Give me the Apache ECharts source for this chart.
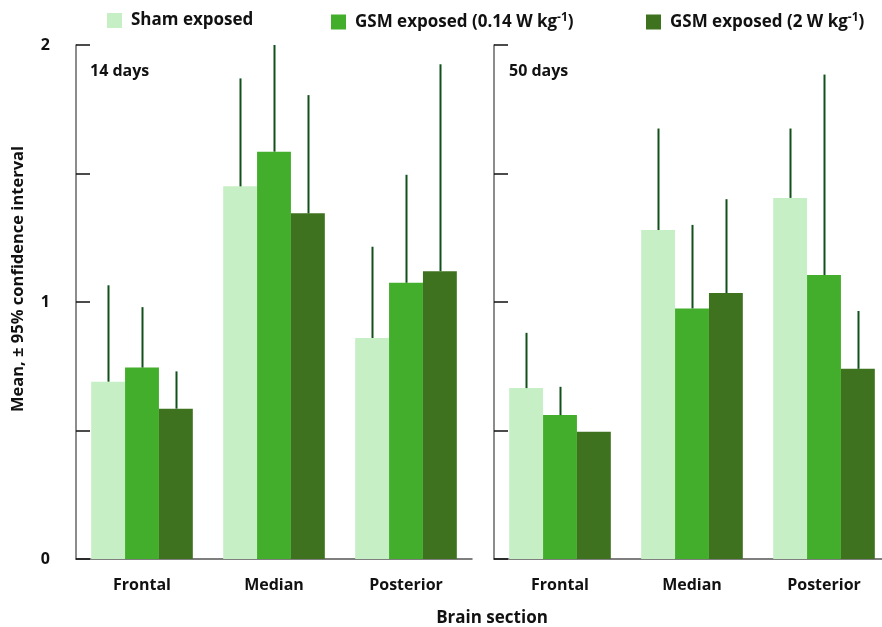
<!DOCTYPE html>
<html>
<head>
<meta charset="utf-8">
<script src="https://cdn.jsdelivr.net/npm/echarts@6/dist/echarts.min.js"></script>
<style>
  html, body { margin: 0; padding: 0; background: #fff; }
  #chart { width: 882px; height: 627px; }
</style>
</head>
<body>
<div id="chart"></div>
<script>
// Brain sections on the x axis
const sections = ['Frontal', 'Median', 'Posterior'];
const panelTitles = ['14 days', '50 days'];
const seriesNames = ['Sham exposed', 'GSM exposed (0.14 W kg-1)', 'GSM exposed (2 W kg-1)'];
const yTicks = [0, 0.5, 1, 1.5, 2];

// 14 days: means and upper 95% confidence limits
const sham14 = [0.69, 1.45, 0.86];
const low14 = [0.745, 1.585, 1.075];
const high14 = [0.585, 1.345, 1.12];
const sham14Upper = [1.065, 1.87, 1.215];
const low14Upper = [0.98, 2.0, 1.495];
const high14Upper = [0.73, 1.805, 1.925];

// 50 days: means and upper 95% confidence limits
const sham50 = [0.665, 1.28, 1.405];
const low50 = [0.56, 0.975, 1.105];
const high50 = [0.495, 1.035, 0.74];
const sham50Upper = [0.88, 1.675, 1.675];
const low50Upper = [0.67, 1.3, 1.885];
const high50Upper = [null, 1.4, 0.965];

const colors = ['#c7efc5', '#43ae2b', '#3f721f'];
const errColor = '#11501a';
const CAT_GAP = 0.23;
const FONT = 'Open Sans';

const chart = echarts.init(document.getElementById('chart'));

function errData(uppers, means) {
  const out = [];
  uppers.forEach((u, s) => {
    u.forEach((v, c) => {
      if (v != null) out.push([c, means[s][c], v, s]);
    });
  });
  return out;
}

function renderErr(params, api) {
  const band = api.size([1, 0])[0];
  const bw = band * (1 - CAT_GAP) / 3;
  const base = api.coord([api.value(0), 0]);
  const x = Math.round(base[0] + (api.value(3) - 1) * bw) + 0.5;
  const y1 = api.coord([api.value(0), api.value(1)])[1];
  const y2 = api.coord([api.value(0), api.value(2)])[1];
  return {
    type: 'line',
    shape: { x1: x, y1: y1, x2: x, y2: y2 },
    style: { stroke: errColor, lineWidth: 2 }
  };
}

const grids = [
  { left: 76, top: 45, width: 396, height: 514, outerBoundsMode: 'none', containLabel: false },
  { left: 494, top: 45, width: 396, height: 514, outerBoundsMode: 'none', containLabel: false }
];

const xAxes = grids.map((g, i) => ({
  type: 'category',
  gridIndex: i,
  data: sections,
  axisLine: { lineStyle: { color: '#555', width: 1.5 } },
  axisTick: { show: false },
  axisLabel: { color: '#111', fontFamily: FONT, fontWeight: 700, fontSize: 16, margin: 18 }
}));

const yAxes = grids.map((g, i) => ({
  type: 'value',
  gridIndex: i,
  min: 0, max: 2, interval: 0.5,
  splitLine: { show: false },
  axisLine: { show: true, lineStyle: { color: '#666', width: 1.5 } },
  axisTick: { show: true, inside: true, length: 14, lineStyle: { color: '#111', width: 1.5 } },
  axisLabel: {
    show: i === 0,
    margin: 26,
    color: '#111', fontFamily: FONT, fontWeight: 700, fontSize: 16,
    formatter: v => (yTicks.includes(v) && Number.isInteger(v)) ? String(v) : ''
  }
}));

const panels = [
  [sham14, low14, high14, [sham14Upper, low14Upper, high14Upper]],
  [sham50, low50, high50, [sham50Upper, low50Upper, high50Upper]]
];

const series = [];
panels.forEach((p, gi) => {
  [p[0], p[1], p[2]].forEach((vals, s) => {
    series.push({
      name: seriesNames[s],
      type: 'bar',
      xAxisIndex: gi, yAxisIndex: gi,
      data: vals,
      barGap: '0%',
      barCategoryGap: (CAT_GAP * 100) + '%',
      itemStyle: { color: colors[s] },
      emphasis: { disabled: true }
    });
  });
  series.push({
    type: 'custom',
    xAxisIndex: gi, yAxisIndex: gi,
    z: 5,
    data: errData(p[3], [p[0], p[1], p[2]]),
    renderItem: renderErr,
    silent: true
  });
});

const legendRich = {
  t: { fontFamily: FONT, fontWeight: 700, fontSize: 17, color: '#111' },
  sup: { fontFamily: FONT, fontWeight: 700, fontSize: 12, color: '#111', verticalAlign: 'top', padding: [0, 0, 8, 0] }
};
function legendFmt(name) {
  const m = name.match(/^(.*)kg-1\)$/);
  if (m) return '{t|' + m[1] + 'kg}{sup|-1}{t|)}';
  return '{t|' + name + '}';
}
const legendLefts = [107, 331, 646];
const legends = seriesNames.map((n, i) => ({
  data: [n],
  left: legendLefts[i],
  top: 12,
  padding: 0,
  itemWidth: 15,
  itemHeight: 15,
  itemGap: 0,
  icon: 'rect',
  selectedMode: false,
  formatter: legendFmt,
  textStyle: { rich: legendRich, padding: [0, 0, 0, 4] }
}));

chart.setOption({
  animation: false,
  grid: grids,
  xAxis: xAxes,
  yAxis: yAxes,
  legend: legends,
  series: series,
  graphic: [
    {
      type: 'text', left: 90, top: 63,
      style: { text: panelTitles[0], font: '700 16px "Open Sans"', fill: '#111' }
    },
    {
      type: 'text', left: 509, top: 63,
      style: { text: panelTitles[1], font: '700 16px "Open Sans"', fill: '#111' }
    },
    {
      type: 'text', x: 18, y: 279, rotation: Math.PI / 2,
      style: {
        text: 'Mean, ± 95% confidence interval',
        font: '700 16.5px "Open Sans"', fill: '#111',
        align: 'center', verticalAlign: 'middle'
      }
    },
    {
      type: 'text', x: 492, y: 618,
      style: {
        text: 'Brain section',
        font: '700 17px "Open Sans"', fill: '#111',
        align: 'center', verticalAlign: 'middle'
      }
    }
  ]
});
</script>
</body>
</html>
